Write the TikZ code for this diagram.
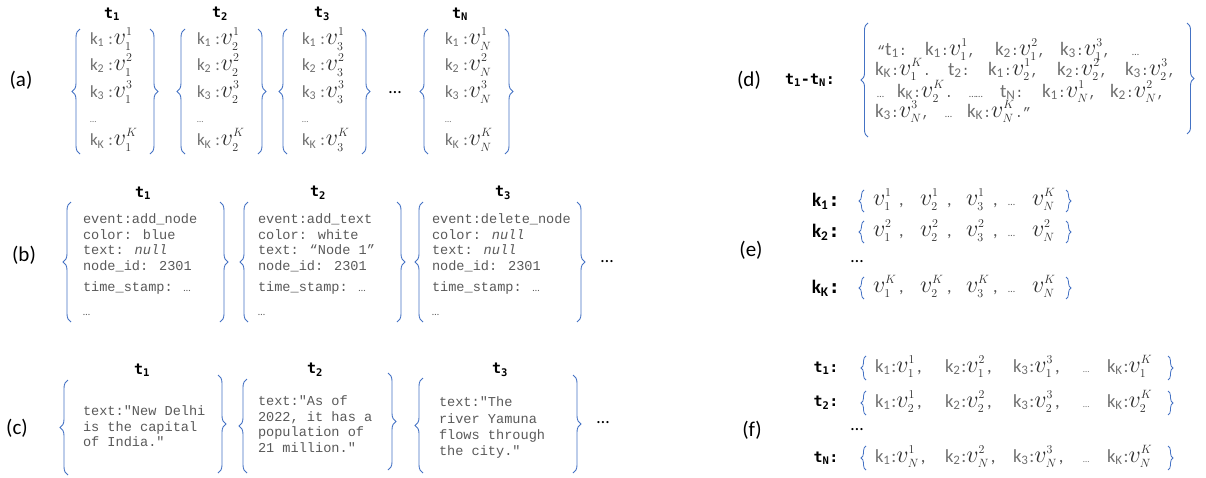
\RequirePackage{fix-cm}
\documentclass[tikz,border=0pt]{standalone}
\usepackage{fontspec}
\setmainfont{Carlito}
\newfontfamily\mono{Liberation Mono}
\newfontfamily\labfont{DejaVu Sans Mono}
\usetikzlibrary{decorations.pathreplacing}
\definecolor{tg}{RGB}{89,89,89}
\definecolor{kg}{RGB}{112,112,112}
\definecolor{vg}{RGB}{45,45,45}
\definecolor{bb}{RGB}{68,114,196}
\newcommand\sdots{{\normalfont\fontsize{10}{10}\selectfont …}}
\newcommand\V[2]{{\fontsize{24}{24}\selectfont\color{vg}$v^{\scriptscriptstyle #2}_{\scriptscriptstyle #1}$}}
\newcommand\DK[1]{{\normalfont\fontsize{19}{19}\selectfont\color{kg}k\textsubscript{#1}}}
\newcommand\DT[1]{{\normalfont\fontsize{19}{19}\selectfont\color{kg}t\textsubscript{#1}}}
\newcommand\mc[1]{{\mono\fontsize{13.6}{14}\selectfont\color{tg}#1}}
\newcommand\KV[3]{\DK{#1}\mc{:}\V{#2}{#3}}
\newcommand\cdd{{\normalfont\fontsize{10}{10}\selectfont\color{tg}…}}
\begin{document}
\begin{tikzpicture}[x=1pt,y=-1pt,
  every node/.style={inner sep=0pt,outer sep=0pt},
  lab/.style={font=\fontsize{21}{24}\selectfont,text=black},
  hdr/.style={font=\labfont\bfseries\fontsize{15}{18}\selectfont,text=black},
  elab/.style={font=\bfseries\fontsize{19}{20}\selectfont,text=black},
  arow/.style={anchor=west,text=kg,font=\fontsize{17}{20}\selectfont},
  mtxt/.style={anchor=north west,align=left,text=tg,font=\mono\fontsize{13.6}{15.5}\selectfont},
  dtok/.style={anchor=base west,text=tg},
  erow/.style={anchor=base west,text=tg,font=\fontsize{18}{20}\selectfont},
  frow/.style={anchor=base west,text=kg,font=\fontsize{18.5}{20}\selectfont},
  br/.style={draw=bb,line width=0.9pt,decorate,decoration={brace,amplitude=8pt}},
  sbr/.style={draw=bb,line width=0.8pt,decorate,decoration={brace,amplitude=5pt}},
  ellip/.style={text=black,font=\fontsize{18}{20}\selectfont},
  ]
\useasboundingbox (0,0) rectangle (1206,477);

% ---------------- (a)
\node[lab] (la) at (21,80) {(a)};
\node[hdr] (ha1) at (112,14) {t\textsubscript{1}};
\node[hdr] (ha2) at (220,14) {t\textsubscript{2}};
\node[hdr] (ha3) at (322,14) {t\textsubscript{3}};
\node[hdr] (haN) at (460,14) {t\textsubscript{N}};
\foreach \cx/\s/\n in {90/1/1,197/2/2,302/3/3,445/N/N}{
  \node[arow] (a\n-r1) at (\cx,39) {k\textsubscript{1}\hspace{4pt}:\hspace{1pt}\V{\s}{1}};
  \node[arow] (a\n-r2) at (\cx,65) {k\textsubscript{2}\hspace{4pt}:\hspace{1pt}\V{\s}{2}};
  \node[arow] (a\n-r3) at (\cx,92) {k\textsubscript{3}\hspace{4pt}:\hspace{1pt}\V{\s}{3}};
  \node[arow,font=\fontsize{9}{10}\selectfont] (a\n-rd) at (\cx,122) {…};
  \node[arow] (a\n-rK) at (\cx,140) {k\textsubscript{K}\hspace{4pt}:\hspace{1pt}\V{\s}{K}};
}
\foreach \l/\r in {80/150,185/258,287/362,428/505}{
  \draw[br] (\l,154) -- (\l,29);
  \draw[br] (\r,29) -- (\r,154);
}
\node[ellip] (adots) at (395,93) {…};

% ---------------- (b)
\node[lab] (lb) at (24,255) {(b)};
\node[hdr] (hb1) at (143,193) {t\textsubscript{1}};
\node[hdr] (hb2) at (318,193) {t\textsubscript{2}};
\node[hdr] (hb3) at (503,193) {t\textsubscript{3}};
\node[mtxt] (b1) at (83,214) {event:add\_node\\color: blue\\text: \textit{null}\\node\_id: 2301\\[6pt]time\_stamp: \sdots\\[8pt]\sdots};
\node[mtxt] (b2) at (258,214) {event:add\_text\\color: white\\text: “Node 1”\\node\_id: 2301\\[6pt]time\_stamp: \sdots\\[8pt]\sdots};
\node[mtxt] (b3) at (432,214) {event:delete\_node\\color: \textit{null}\\text: \textit{null}\\node\_id: 2301\\[6pt]time\_stamp: \sdots\\[8pt]\sdots};
\foreach \l/\r in {71/220,248/397,423/577}{
  \draw[br] (\l,322) -- (\l,202);
  \draw[br] (\r,202) -- (\r,322);
}
\node[ellip] (bdots) at (607,262) {…};

% ---------------- (c)
\node[lab] (lc) at (17,428) {(c)};
\node[hdr] (hc1) at (142,370) {t\textsubscript{1}};
\node[hdr] (hc2) at (315,370) {t\textsubscript{2}};
\node[hdr] (hc3) at (500,370) {t\textsubscript{3}};
\node[mtxt] (c1) at (83,406) {text:"New Delhi\\is the capital\\of India."};
\node[mtxt] (c2) at (258,396) {text:"As of\\2022, it has a\\population of\\21 million."};
\node[mtxt,font=\mono\fontsize{13.6}{16.2}\selectfont] (c3) at (439,397) {text:"The\\river Yamuna\\flows through\\the city."};
\draw[br] (68,475) -- (68,380);
\draw[br] (218,375) -- (218,473);
\draw[br] (247,473) -- (247,379);
\draw[br] (388,373) -- (388,470);
\draw[br] (423,473) -- (423,378);
\draw[br] (573,375) -- (573,473);
\node[ellip] (cdots) at (603,423) {…};

% ---------------- (d)
\node[lab] (ld) at (749,80) {(d)};
\node[hdr] (hd) at (810,80) {t\textsubscript{1}-t\textsubscript{N}:};
\draw[br,decoration={amplitude=7pt}] (868,137) -- (868,23);
\draw[br,decoration={amplitude=7pt}] (1187,23) -- (1187,134);
% line 1
\node[dtok] (d1a) at (877,55) {\mc{“}\DT{1}\mc{:}};
\node[dtok] (d1b) at (925,55) {\KV{1}{1}{1}\mc{,}};
\node[dtok] (d1c) at (995,55) {\KV{2}{1}{2}\mc{,}};
\node[dtok] (d1d) at (1060,55) {\KV{3}{1}{3}\mc{,}};
\node[dtok] (d1e) at (1132,55) {\cdd};
% line 2
\node[dtok] (d2a) at (875,75) {\KV{K}{1}{K}\mc{.}};
\node[dtok] (d2b) at (948,75) {\DT{2}\mc{:}};
\node[dtok] (d2c) at (988,75) {\KV{1}{2}{1}\mc{,}};
\node[dtok] (d2d) at (1057,75) {\KV{2}{2}{2}\mc{,}};
\node[dtok] (d2e) at (1125,75) {\KV{3}{2}{3}\mc{,}};
% line 3
\node[dtok] (d3a) at (877,97) {\cdd};
\node[dtok] (d3b) at (897,97) {\KV{K}{2}{K}\mc{.}};
\node[dtok] (d3c) at (969,97) {\cdd\cdd};
\node[dtok] (d3d) at (1000,97) {\DT{N}\mc{:}};
\node[dtok] (d3e) at (1042,97) {\KV{1}{N}{1}\mc{,}};
\node[dtok] (d3f) at (1110,97) {\KV{2}{N}{2}\mc{,}};
% line 4
\node[dtok] (d4a) at (875,117) {\KV{3}{N}{3}\mc{,}};
\node[dtok] (d4b) at (945,117) {\cdd};
\node[dtok] (d4c) at (967,117) {\KV{K}{N}{K}\mc{.”}};

% ---------------- (e)
\node[lab] (le) at (751,250) {(e)};
\foreach \r/\y/\s/\z in {1/201/1/K,2/232/2/2,K/288/K/K}{
  \node[elab] (ek\r) at (826,\y) {k\textsubscript{\r}{\labfont:}};
  \draw[sbr] (864,\y+11) -- (864,\y-11);
  \draw[sbr] (1066,\y-11) -- (1066,\y+11);
  \node[erow] (e\r-1) at (873,\y+4) {\V{1}{\s}};
  \node[erow] (e\r-c1) at (899,\y+4) {,};
  \node[erow] (e\r-2) at (920,\y+4) {\V{2}{\s}};
  \node[erow] (e\r-c2) at (947,\y+4) {,};
  \node[erow] (e\r-3) at (966,\y+4) {\V{3}{\s}};
  \node[erow] (e\r-c3) at (993,\y+4) {,};
  \node[erow,font=\fontsize{10}{10}\selectfont] (e\r-d) at (1008,\y+4) {…};
  \node[erow] (e\r-N) at (1032,\y+4) {\V{N}{\z}};
}
\node[ellip] (edots) at (857,262) {…};

% ---------------- (f)
\node[lab] (lf) at (752,430) {(f)};
\foreach \r/\y in {1/368,2/403,N/458}{
  \node[hdr] (ft\r) at (826,\y) {t\textsubscript{\r}:};
  \draw[sbr] (866,\y+12) -- (866,\y-12);
  \draw[sbr] (1168,\y-12) -- (1168,\y+12);
  \node[frow] (f\r-1) at (875,\y+4) {k\textsubscript{1}\hspace{1pt}:\V{\r}{1}\hspace{2pt}{\color{tg},}};
  \node[frow] (f\r-2) at (945,\y+4) {k\textsubscript{2}\hspace{1pt}:\V{\r}{2}\hspace{2pt}{\color{tg},}};
  \node[frow] (f\r-3) at (1013,\y+4) {k\textsubscript{3}\hspace{1pt}:\V{\r}{3}\hspace{2pt}{\color{tg},}};
  \node[frow,font=\fontsize{9}{10}\selectfont] (f\r-d) at (1083,\y+4) {…};
  \node[frow] (f\r-K) at (1107,\y+4) {k\textsubscript{K}\hspace{1pt}:\V{\r}{K}};
}
\node[ellip] (fdots) at (857,430) {…};
\end{tikzpicture}
\end{document}
